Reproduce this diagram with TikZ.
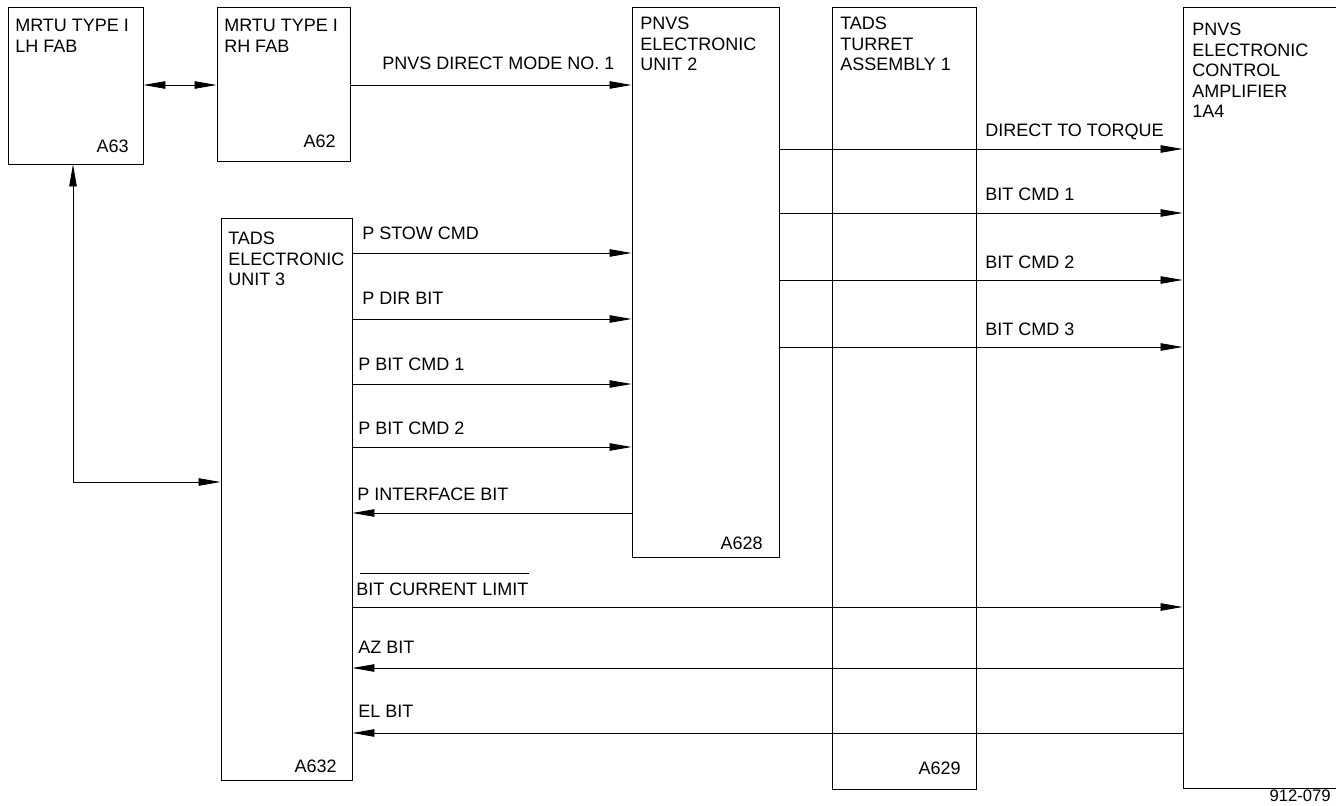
\documentclass[tikz,border=0pt]{standalone}
\usepackage{fontspec}
\setmainfont{Liberation Sans}
\usetikzlibrary{arrows.meta,fit}
\begin{document}
\begin{tikzpicture}[x=0.75pt,y=-0.75pt,
  >={Triangle[length=16.5pt,width=5.6pt]},
  box/.style={draw,line width=0.7pt,inner sep=0pt,fit={#1}},
  sig/.style={line width=0.65pt},
  btext/.style={anchor=north west,inner sep=0pt,align=left,font=\fontsize{13.5}{15.4}\selectfont},
  lbl/.style={anchor=base west,inner sep=0pt,font=\fontsize{13.5}{15.4}\selectfont},
  clbl/.style={anchor=base east,inner sep=0pt,font=\fontsize{13.5}{15.4}\selectfont}]
\useasboundingbox (0,0) rectangle (1336,806);
\clip (0,0) rectangle (1336,806);
% boxes
\node[box={(8,7) (143,164)}] (A63) {};
\node[box={(217,7) (350,161)}] (A62) {};
\node[box={(221,218) (352,780)}] (A632) {};
\node[box={(632,7) (779,557)}] (A628) {};
\node[box={(832,7) (976,789)}] (A629) {};
\node[box={(1183,7) (1350,788)}] (A1A4) {};
% box texts
\node[btext] (t63) at (15,19) {MRTU TYPE I\\LH FAB};
\node[btext] (t62) at (224,19) {MRTU TYPE I\\RH FAB};
\node[btext] (t632) at (228,232) {TADS\\ELECTRONIC\\UNIT 3};
\node[btext] (t628) at (640,17) {PNVS\\ELECTRONIC\\UNIT 2};
\node[btext] (t629) at (840,17) {TADS\\TURRET\\ASSEMBLY 1};
\node[btext] (t1a4) at (1192,23) {PNVS\\ELECTRONIC\\CONTROL\\AMPLIFIER\\1A4};
\node[clbl] (c63) at (129,153) {A63};
\node[clbl] (c62) at (336,148) {A62};
\node[clbl] (c632) at (337,772) {A632};
\node[clbl] (c628) at (763,549) {A628};
\node[clbl] (c629) at (961,774) {A629};
\node[anchor=base east,inner sep=0pt,font=\fontsize{12.5}{14}\selectfont] (fig) at (1331,801) {912-079};
% connectors
\draw[sig,<->] (A63.east |- 0,85) -- (A62.west |- 0,85);
\draw[sig,->] (A62.east |- 0,85) -- (A628.west |- 0,85);
\node[lbl] (l1) at (382,70) {PNVS DIRECT MODE NO. 1};
\coordinate (fb) at (73,482);
\draw[sig,<->] (A63.south -| fb) -- (fb) -- (fb -| A632.west);
% A628 -> A1A4
\draw[sig,->] (A628.east |- 0,149) -- (A1A4.west |- 0,149);
\node[lbl] (l2) at (985,137) {DIRECT TO TORQUE};
\draw[sig,->] (A628.east |- 0,213) -- (A1A4.west |- 0,213);
\node[lbl] (l3) at (985,201) {BIT CMD 1};
\draw[sig,->] (A628.east |- 0,280) -- (A1A4.west |- 0,280);
\node[lbl] (l4) at (985,268) {BIT CMD 2};
\draw[sig,->] (A628.east |- 0,347) -- (A1A4.west |- 0,347);
\node[lbl] (l5) at (985,335) {BIT CMD 3};
% A632 <-> A628
\draw[sig,->] (A632.east |- 0,253) -- (A628.west |- 0,253);
\node[lbl] (l6) at (362,239) {P STOW CMD};
\draw[sig,->] (A632.east |- 0,319) -- (A628.west |- 0,319);
\node[lbl] (l7) at (362,305) {P DIR BIT};
\draw[sig,->] (A632.east |- 0,384) -- (A628.west |- 0,384);
\node[lbl] (l8) at (358,370) {P BIT CMD 1};
\draw[sig,->] (A632.east |- 0,447) -- (A628.west |- 0,447);
\node[lbl] (l9) at (358,434) {P BIT CMD 2};
\draw[sig,<-] (A632.east |- 0,513) -- (A628.west |- 0,513);
\node[lbl] (l10) at (357,500) {P INTERFACE BIT};
% A632 <-> A1A4
\draw[sig,->] (A632.east |- 0,607) -- (A1A4.west |- 0,607);
\node[lbl] (l11) at (356,595) {BIT CURRENT LIMIT};
\draw[sig] (l11.north west |- 0,573) ++(4,0) coordinate (ov1) -- (l11.east |- ov1);
\draw[sig,<-] (A632.east |- 0,668) -- (A1A4.west |- 0,668);
\node[lbl] (l12) at (358,653) {AZ BIT};
\draw[sig,<-] (A632.east |- 0,733) -- (A1A4.west |- 0,733);
\node[lbl] (l13) at (358,717) {EL BIT};
\end{tikzpicture}
\end{document}
